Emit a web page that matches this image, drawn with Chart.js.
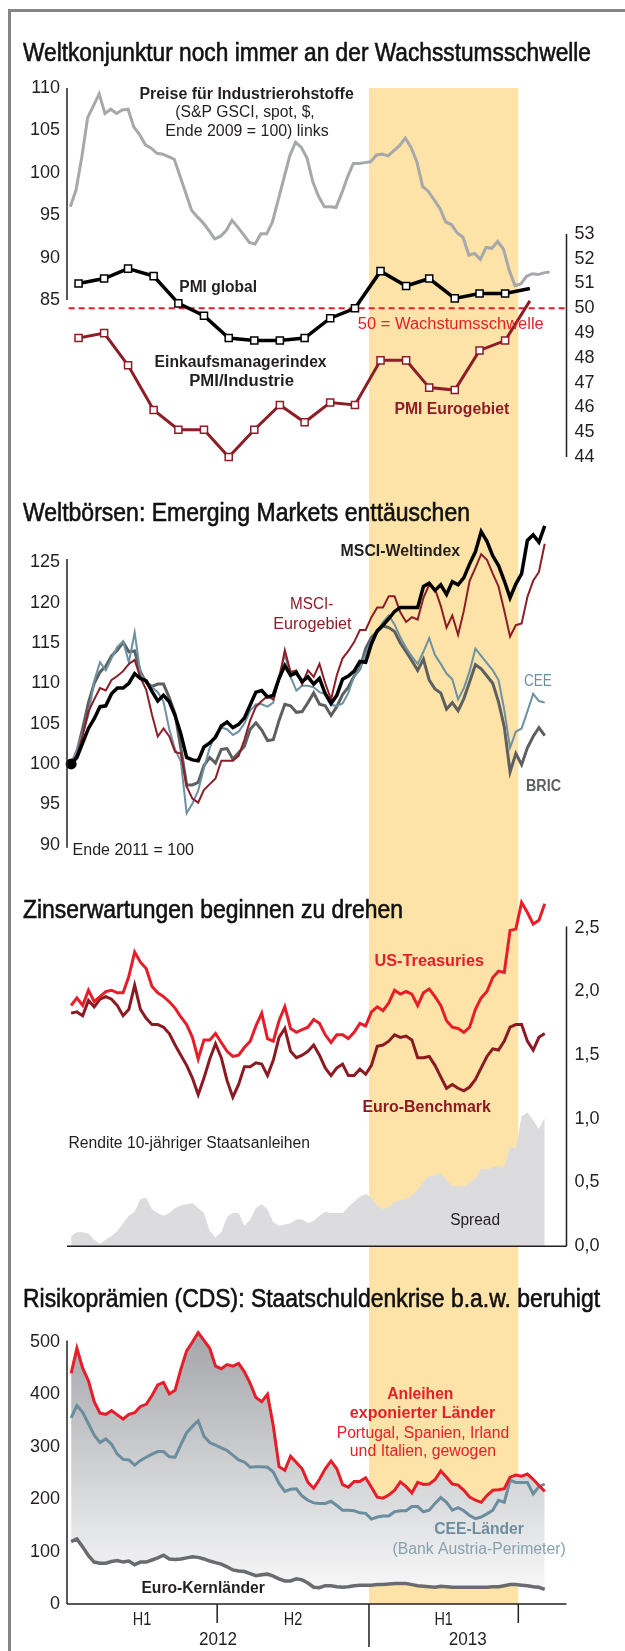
<!DOCTYPE html>
<html lang="de">
<head>
<meta charset="utf-8">
<title>Weltkonjunktur, Börsen, Zinsen, CDS</title>
<script src="https://cdn.jsdelivr.net/npm/chart.js@4.4.1/dist/chart.umd.min.js"></script>
<style>
  html, body { margin: 0; padding: 0; background: #fff; }
  #page { position: relative; width: 625px; height: 1651px; overflow: hidden; }
  #frame { position: absolute; left: 8px; top: 9px; width: 700px; height: 1700px;
           border-top: 3px solid #858585; border-left: 3px solid #858585; }
  canvas { position: absolute; left: 0; }
  .title { position: absolute; left: 23px; font-family: "Liberation Sans", Arial, sans-serif;
           font-size: 26px; line-height: 30px; color: #111; white-space: nowrap;
           transform-origin: 0 50%; z-index: 5; -webkit-text-stroke: 0.6px #111; }
</style>
</head>
<body>
<div id="page">
  <div id="frame"></div>
  <canvas id="p1" width="625" height="430" style="top:60px"></canvas>
  <canvas id="p2" width="625" height="390" style="top:490px"></canvas>
  <canvas id="p3" width="625" height="385" style="top:880px"></canvas>
  <canvas id="p4" width="625" height="386" style="top:1265px"></canvas>
  <div class="title" data-w="568" style="top:37px">Weltkonjunktur noch immer an der Wachsstumsschwelle</div>
  <div class="title" data-w="447" style="top:497px">Weltbörsen: Emerging Markets enttäuschen</div>
  <div class="title" data-w="380" style="top:894px">Zinserwartungen beginnen zu drehen</div>
  <div class="title" data-w="577" style="top:1283px">Risikoprämien (CDS): Staatschuldenkrise b.a.w. beruhigt</div>
</div>
<script>
// ---------- data ----------
const HIGHLIGHT = ['2013-01-01', '2013-07-01'];
const HALF_BOUNDS = ['2012-01-01', '2012-07-01', '2013-01-01', '2013-07-01'];
const HALF_LABELS = ['H1', 'H2', 'H1'];
const YEAR_STARTS = ['2012-01-01', '2013-01-01'];
const YEAR_LABELS = ['2012', '2013'];

// panel 1: PMI (monthly, right axis) and commodity prices (weekly, left axis)
const PMI_MONTHS = ['2012-01-15', '2012-02-15', '2012-03-15', '2012-04-15', '2012-05-15', '2012-06-15',
  '2012-07-15', '2012-08-15', '2012-09-15', '2012-10-15', '2012-11-15', '2012-12-15',
  '2013-01-15', '2013-02-15', '2013-03-15', '2013-04-15', '2013-05-15', '2013-06-15', '2013-07-15'];
const PMI_GLOBAL = [51.0, 51.2, 51.6, 51.3, 50.2, 49.7, 48.8, 48.7, 48.7, 48.8, 49.6, 50.0,
  51.5, 50.9, 51.2, 50.4, 50.6, 50.6, 50.8];
const PMI_EURO = [48.8, 49.0, 47.7, 45.9, 45.1, 45.1, 44.0, 45.1, 46.1, 45.4, 46.2, 46.1,
  47.9, 47.9, 46.8, 46.7, 48.3, 48.7, 50.3];
const PMI_THRESHOLD = 50;
const COMMODITY_START = '2012-01-05';
const COMMODITY = [96.0, 98.0, 101.9, 106.5, 107.9, 109.3, 107.0, 107.5, 107.0, 107.4,
  107.5, 105.4, 104.5, 103.3, 102.9, 102.3, 102.2, 101.9, 101.6, 99.6,
  97.6, 95.6, 94.8, 94.1, 93.2, 92.2, 92.5, 93.2, 94.4, 93.6,
  92.7, 91.8, 91.6, 92.8, 92.8, 94.2, 96.8, 99.4, 102.0, 103.6,
  103.0, 101.7, 98.9, 97.2, 96.0, 96.0, 95.9, 97.6, 99.5, 101.1,
  101.1, 101.2, 101.3, 102.1, 102.2, 102.0, 102.6, 103.2, 104.1, 103.0,
  101.3, 98.4, 97.8, 96.8, 95.8, 94.2, 93.9, 92.9, 92.4, 90.3,
  90.5, 89.8, 91.2, 91.1, 91.9, 91.0, 88.5, 86.7, 86.9, 87.8,
  88.1, 88.0, 88.2, 88.3];
const P1_LEFT_TICKS = [85, 90, 95, 100, 105, 110];
const P1_RIGHT_TICKS = [44, 45, 46, 47, 48, 49, 50, 51, 52, 53];

// weekly series of panels 2-4
const WEEKLY_START = '2012-01-06';
const MSCI_WORLD = [100, 100.8, 102.6, 104.4, 105.6, 107.1, 107.2, 108.7, 109.4, 109.4,
  110.0, 111.2, 110.6, 110.3, 109.0, 107.8, 108.5, 107.7, 106.0, 103.7,
  100.8, 100.5, 100.4, 102.1, 102.6, 103.3, 104.7, 105.2, 104.5, 104.9,
  105.7, 107.3, 108.9, 109.1, 108.3, 108.5, 110.6, 112.2, 111.0, 111.3,
  110.2, 110.8, 109.9, 110.6, 108.7, 107.5, 108.5, 110.5, 110.9, 111.5,
  112.7, 112.6, 114.9, 116.5, 117.2, 118.0, 118.9, 119.4, 119.4, 119.4,
  119.4, 122.0, 122.4, 121.5, 122.2, 121.0, 122.6, 122.2, 123.1, 124.8,
  126.3, 128.8, 127.6, 125.8, 124.6, 122.7, 120.6, 122.3, 123.6, 127.7,
  128.4, 127.5, 129.5];
const MSCI_EURO = [100, 101.1, 103.5, 106.5, 108.0, 109.4, 109.1, 110.4, 110.9, 111.5,
  112.4, 112.9, 110.7, 109.2, 106.1, 103.4, 104.4, 103.4, 101.5, 101.3,
  97.2, 95.7, 95.2, 96.8, 97.5, 98.2, 100.4, 100.4, 100.4, 101.0,
  103.0, 105.4, 107.1, 107.8, 108.4, 108.0, 110.4, 114.1, 111.4, 111.6,
  109.9, 111.6, 110.8, 112.4, 110.0, 108.0, 111.0, 113.1, 114.0, 115.1,
  116.6, 116.6, 118.2, 119.4, 119.4, 120.8, 120.8, 118.8, 117.6, 118.2,
  117.9, 120.6, 122.2, 121.7, 119.6, 116.9, 118.4, 116.0, 119.0, 122.7,
  124.3, 126.0, 125.3, 123.6, 122.0, 119.0, 115.8, 117.2, 117.4, 120.7,
  122.7, 123.8, 127.3];
const MSCI_CEE = [100, 101.8, 103.8, 106.1, 110.3, 112.6, 111.6, 113.1, 114.5, 115.2,
  112.6, 116.3, 111.2, 110.3, 109.5, 108.9, 107.7, 104.3, 101.8, 100.3,
  93.9, 95.1, 96.7, 99.5, 102.0, 103.6, 104.5, 104.3, 103.6, 104.0,
  105.0, 106.6, 107.4, 107.4, 107.1, 107.6, 110.9, 113.6, 110.8, 109.1,
  109.7, 109.7, 109.5, 108.9, 108.7, 107.3, 107.2, 107.5, 108.8, 110.9,
  111.7, 113.7, 115.3, 116.4, 117.6, 118.4, 117.3, 115.7, 114.4, 113.3,
  112.4, 113.9, 115.6, 113.5, 112.4, 111.2, 110.5, 108.0, 109.4, 111.5,
  114.3, 113.4, 112.5, 111.6, 110.4, 106.7, 102.0, 104.0, 104.4, 106.5,
  108.7, 107.8, 107.6];
const MSCI_BRIC = [100, 101.5, 104.4, 107.6, 110.0, 111.4, 112.1, 113.4, 114.1, 115.1,
  113.9, 114.0, 111.4, 110.1, 109.6, 109.9, 109.9, 108.2, 106.2, 101.9,
  97.4, 97.4, 97.7, 99.8, 100.8, 100.1, 101.8, 101.9, 100.6, 101.4,
  102.2, 104.3, 105.1, 104.2, 102.9, 103.0, 105.4, 107.4, 107.2, 106.4,
  106.5, 107.6, 108.8, 107.4, 107.2, 106.0, 107.1, 108.6, 109.5, 110.9,
  111.8, 114.3, 115.7, 116.4, 117.1, 116.9, 116.4, 115.0, 113.9, 112.8,
  111.6, 113.0, 110.4, 109.3, 108.8, 106.8, 107.6, 106.6, 108.1, 110.2,
  112.3, 111.8, 110.9, 110.0, 107.7, 104.6, 99.0, 101.3, 99.9, 102.0,
  103.4, 104.5, 103.5];
const P2_TICKS = [90, 95, 100, 105, 110, 115, 120, 125];

const US_10Y = [1.89, 1.95, 1.89, 2.01, 1.92, 1.96, 2.00, 2.01, 1.99, 1.99,
  2.12, 2.31, 2.23, 2.18, 2.04, 1.99, 1.96, 1.92, 1.87, 1.80,
  1.74, 1.64, 1.47, 1.62, 1.62, 1.67, 1.60, 1.53, 1.49, 1.50,
  1.56, 1.61, 1.73, 1.83, 1.63, 1.61, 1.77, 1.88, 1.71, 1.68,
  1.70, 1.72, 1.78, 1.75, 1.66, 1.60, 1.66, 1.66, 1.63, 1.68,
  1.75, 1.73, 1.84, 1.88, 1.85, 1.91, 2.01, 1.98, 2.00, 1.98,
  1.89, 1.99, 2.02, 1.96, 1.89, 1.77, 1.72, 1.71, 1.68, 1.72,
  1.86, 1.95, 2.00, 2.11, 2.16, 2.15, 2.48, 2.49, 2.70, 2.62,
  2.53, 2.56, 2.69];
const EURO_10Y = [1.83, 1.84, 1.81, 1.93, 1.88, 1.94, 1.96, 1.94, 1.89, 1.81,
  1.86, 2.05, 1.86, 1.79, 1.74, 1.74, 1.72, 1.67, 1.58, 1.50,
  1.42, 1.32, 1.19, 1.32, 1.47, 1.59, 1.48, 1.30, 1.17, 1.27,
  1.41, 1.41, 1.44, 1.43, 1.34, 1.46, 1.64, 1.71, 1.53, 1.48,
  1.50, 1.53, 1.58, 1.50, 1.40, 1.34, 1.40, 1.43, 1.34, 1.34,
  1.39, 1.35, 1.42, 1.57, 1.58, 1.61, 1.66, 1.64, 1.65, 1.62,
  1.48, 1.48, 1.49, 1.42, 1.33, 1.24, 1.27, 1.24, 1.22, 1.25,
  1.31, 1.40, 1.49, 1.55, 1.54, 1.61, 1.72, 1.74, 1.74, 1.61,
  1.54, 1.64, 1.67];
const SPREAD = [0.08, 0.11, 0.11, 0.10, 0.05, 0.02, 0.05, 0.08, 0.12, 0.18,
  0.24, 0.27, 0.37, 0.38, 0.29, 0.26, 0.24, 0.26, 0.30, 0.32,
  0.33, 0.34, 0.30, 0.26, 0.12, 0.07, 0.11, 0.23, 0.26, 0.26,
  0.16, 0.21, 0.30, 0.33, 0.29, 0.19, 0.16, 0.17, 0.18, 0.21,
  0.21, 0.18, 0.20, 0.24, 0.27, 0.26, 0.26, 0.26, 0.31, 0.35,
  0.39, 0.41, 0.38, 0.32, 0.29, 0.31, 0.35, 0.36, 0.37, 0.40,
  0.44, 0.51, 0.55, 0.56, 0.57, 0.52, 0.47, 0.47, 0.47, 0.50,
  0.53, 0.61, 0.60, 0.62, 0.63, 0.62, 0.78, 0.77, 1.02, 1.05,
  0.99, 0.92, 1.01];
const P3_TICKS = [0, 0.5, 1, 1.5, 2, 2.5];

const CDS_PERIPHERY = [440, 488, 450, 426, 386, 364, 362, 369, 361, 353,
  362, 365, 377, 381, 398, 418, 423, 401, 408, 448,
  483, 500, 518, 503, 488, 454, 449, 457, 454, 459,
  443, 421, 394, 386, 400, 340, 262, 255, 282, 270,
  258, 232, 221, 238, 258, 273, 258, 228, 223, 234,
  234, 241, 223, 204, 202, 208, 217, 233, 224, 212,
  232, 228, 229, 237, 254, 242, 229, 227, 217, 204,
  198, 194, 207, 217, 218, 220, 242, 246, 244, 248,
  238, 226, 215];
const CDS_CEE = [355, 379, 366, 344, 322, 308, 315, 305, 286, 276,
  275, 265, 274, 280, 286, 291, 291, 281, 280, 304,
  327, 339, 350, 320, 308, 303, 298, 293, 284, 275,
  271, 261, 262, 262, 261, 252, 230, 215, 219, 220,
  206, 198, 193, 192, 192, 196, 188, 179, 179, 178,
  174, 173, 162, 166, 168, 168, 176, 178, 178, 186,
  186, 176, 179, 192, 203, 194, 179, 184, 178, 169,
  163, 166, 172, 179, 198, 194, 236, 232, 232, 232,
  210, 224, 229];
const CDS_CORE = [119, 124, 109, 92, 80, 78, 78, 81, 83, 80,
  82, 75, 80, 80, 84, 88, 93, 86, 85, 86,
  88, 90, 89, 86, 82, 79, 76, 71, 65, 63,
  62, 58, 54, 56, 57, 53, 48, 44, 44, 48,
  46, 40, 32, 31, 35, 35, 33, 32, 33, 35,
  36, 36, 36, 37, 37, 38, 39, 39, 39, 37,
  35, 34, 33, 32, 34, 33, 32, 32, 32, 32,
  32, 32, 32, 33, 33, 35, 37, 37, 36, 35,
  33, 32, 28];
const P4_TICKS = [0, 100, 200, 300, 400, 500];

// ---------- helpers ----------
const FONT = '"Liberation Sans", Arial, sans-serif';
const INK = '#231f20';
const BAND = '#fde3a7';
const RED = '#e61e2a';
const DARKRED = '#8d1d27';
const BLUEGREY = '#6b91a3';
const AREA_LEFT = 67, AREA_RIGHT = 566.5, PAGE_W = 625;
const X_MAX = 605.4; // days after 1 Jan 2012 at the right end of the axes

const DAY0 = Date.UTC(2012, 0, 1);
const day = s => (Date.parse(s + 'T00:00:00Z') - DAY0) / 864e5;
const weekly = (start, n) => Array.from({length: n}, (_, i) => day(start) + 7 * i);
const pts = (xs, ys) => ys.map((y, i) => ({x: xs[i], y}));

const WEEKS_COMMODITY = weekly(COMMODITY_START, COMMODITY.length);
const WEEKS = weekly(WEEKLY_START, MSCI_WORLD.length);
const MONTHS = PMI_MONTHS.map(day);

function drawText(ctx, L, top) {
  ctx.save();
  ctx.font = (L.bold ? 'bold ' : '') + (L.size || 16) + 'px ' + FONT;
  ctx.fillStyle = L.color || INK;
  ctx.textBaseline = 'middle';
  ctx.textAlign = 'left';
  const natural = ctx.measureText(L.t).width;
  const w = L.w || natural;
  const left = L.align === 'center' ? L.x - w / 2 : L.x;
  ctx.translate(left, L.y - top);
  ctx.scale(w / natural, 1);
  ctx.fillText(L.t, 0, 0);
  ctx.restore();
}

function drawTimeAxis(chart, top) {
  const {ctx, chartArea: a, scales: {x}} = chart;
  const y0 = a.bottom;
  HALF_BOUNDS.slice(1).forEach(d => {
    const px = x.getPixelForValue(day(d));
    const long = YEAR_STARTS.includes(d);
    ctx.beginPath();
    ctx.moveTo(px, y0);
    ctx.lineTo(px, y0 + (long ? 43 : 19));
    ctx.stroke();
  });
  HALF_LABELS.forEach((t, i) => {
    const mid = (day(HALF_BOUNDS[i]) + day(HALF_BOUNDS[i + 1])) / 2;
    drawText(ctx, {t, x: x.getPixelForValue(mid), y: 1620, align: 'center', size: 18, w: 18.5}, top);
  });
  YEAR_LABELS.forEach((t, i) => {
    const from = day(YEAR_STARTS[i]);
    const to = i + 1 < YEAR_STARTS.length ? day(YEAR_STARTS[i + 1]) : X_MAX;
    drawText(ctx, {t, x: x.getPixelForValue((from + to) / 2), y: 1640, align: 'center', size: 18, w: 38}, top);
  });
}

function decor(spec) {
  return {
    id: 'decor',
    beforeDraw(chart) {
      const {ctx, chartArea: a, scales} = chart;
      const x0 = scales.x.getPixelForValue(day(HIGHLIGHT[0]));
      const x1 = scales.x.getPixelForValue(day(HIGHLIGHT[1]));
      const y0 = spec.bandFromArea ? a.top : 0;
      const y1 = spec.bandToArea ? a.bottom : chart.height;
      ctx.save();
      ctx.fillStyle = BAND;
      ctx.fillRect(x0, y0, x1 - x0, y1 - y0);
      ctx.restore();
    },
    afterDraw(chart) {
      const {ctx, chartArea: a, scales} = chart;
      ctx.save();
      ctx.strokeStyle = INK;
      ctx.lineWidth = 1.5;
      (spec.axes || []).forEach(ax => {
        const s = scales[ax.scale];
        const px = s.position === 'left' ? a.left : a.right;
        ctx.beginPath();
        ctx.moveTo(px, s.getPixelForValue(ax.from));
        ctx.lineTo(px, s.getPixelForValue(ax.to));
        ctx.stroke();
      });
      if (spec.baseline) {
        const py = scales[spec.baseline].getPixelForValue(0);
        ctx.beginPath();
        ctx.moveTo(a.left, py);
        ctx.lineTo(a.right, py);
        ctx.stroke();
      }
      if (spec.timeAxis) drawTimeAxis(chart, spec.top);
      ctx.restore();
      (spec.labels || []).forEach(L => drawText(ctx, L, spec.top));
    }
  };
}

function yAxis(position, min, max, ticks, fmt) {
  return {
    type: 'linear', position, min, max,
    grid: {display: false, drawTicks: false},
    border: {display: false},
    afterBuildTicks: s => { s.ticks = ticks.map(v => ({value: v})); },
    afterFit: s => { s.width = position === 'left' ? AREA_LEFT : PAGE_W - AREA_RIGHT; },
    ticks: {
      autoSkip: false, padding: position === 'left' ? 7 : 8, color: INK,
      font: {family: FONT, size: 18},
      callback: fmt || (v => String(v))
    }
  };
}

function options(padding, scales) {
  return {
    responsive: false,
    animation: false,
    events: [],
    layout: {padding},
    plugins: {
      legend: {display: false},
      tooltip: {enabled: false},
      filler: {drawTime: 'beforeDatasetsDraw'}
    },
    scales: Object.assign({x: {type: 'linear', min: 0, max: X_MAX, display: false}}, scales)
  };
}

function line(data, color, width, extra) {
  return Object.assign({
    data, borderColor: color, borderWidth: width, pointRadius: 0,
    tension: 0, fill: false, clip: false
  }, extra || {});
}

// ---------- panel 1 ----------
new Chart(document.getElementById('p1'), {
  type: 'line',
  data: {
    datasets: [
      line(pts(MONTHS, PMI_GLOBAL), '#000', 3.5, {
        yAxisID: 'yR', pointStyle: 'rect', pointBackgroundColor: '#fff',
        pointBorderColor: '#000', pointBorderWidth: 1.5,
        pointRadius: c => c.dataIndex < PMI_GLOBAL.length - 1 ? 5 : 0
      }),
      line(pts(MONTHS, PMI_EURO), DARKRED, 3, {
        yAxisID: 'yR', pointStyle: 'rect', pointBackgroundColor: '#fff',
        pointBorderColor: DARKRED, pointBorderWidth: 1.5,
        pointRadius: c => c.dataIndex < PMI_EURO.length - 1 ? 5 : 0
      }),
      line([{x: 2, y: PMI_THRESHOLD}, {x: X_MAX, y: PMI_THRESHOLD}], RED, 2, {
        yAxisID: 'yR', borderDash: [6, 4]
      }),
      line(pts(WEEKS_COMMODITY, COMMODITY), '#a6a8ab', 3, {yAxisID: 'yL'})
    ]
  },
  options: options({left: 0, right: 0, top: 28, bottom: 33}, {
    yL: yAxis('left', 66.49, 110, P1_LEFT_TICKS),
    yR: yAxis('right', 44, 58.89, P1_RIGHT_TICKS)
  }),
  plugins: [decor({
    top: 60, bandFromArea: true,
    axes: [{scale: 'yL', from: 85, to: 110}, {scale: 'yR', from: 44, to: 53}],
    labels: [
      {t: 'Preise für Industrierohstoffe', x: 139.4, y: 95, w: 214.4, bold: true},
      {t: '(S&P GSCI, spot, $,', x: 175.3, y: 113, w: 139.4},
      {t: 'Ende 2009 = 100) links', x: 165.3, y: 132, w: 163.4},
      {t: 'PMI global', x: 179.3, y: 288, w: 77.7, bold: true},
      {t: '50 = Wachstumsschwelle', x: 357.8, y: 325, w: 186, color: RED},
      {t: 'Einkaufsmanagerindex', x: 154.6, y: 363, w: 172, bold: true},
      {t: 'PMI/Industrie', x: 189.2, y: 382, w: 104.8, bold: true},
      {t: 'PMI Eurogebiet', x: 394.4, y: 410, w: 114.8, bold: true, color: DARKRED}
    ]
  })]
});

// ---------- panel 2 ----------
new Chart(document.getElementById('p2'), {
  type: 'line',
  data: {
    datasets: [
      line(pts(WEEKS, MSCI_WORLD), '#000', 3.5, {
        pointRadius: c => c.dataIndex === 0 ? 5.5 : 0, pointBackgroundColor: '#000',
        pointBorderColor: '#000', pointBorderWidth: 0
      }),
      line(pts(WEEKS, MSCI_EURO), DARKRED, 2),
      line(pts(WEEKS, MSCI_CEE), BLUEGREY, 2),
      line(pts(WEEKS, MSCI_BRIC), '#5e5f61', 3)
    ]
  },
  options: options({left: 0, right: PAGE_W - AREA_RIGHT, top: 12, bottom: 12}, {
    y: yAxis('left', 87.82, 131.75, P2_TICKS)
  }),
  plugins: [decor({
    top: 490,
    axes: [{scale: 'y', from: 89.6, to: 125.4}],
    labels: [
      {t: 'MSCI-Weltindex', x: 340.6, y: 551.7, w: 119.5, bold: true},
      {t: 'MSCI-', x: 290, y: 605, w: 43.3, color: DARKRED},
      {t: 'Eurogebiet', x: 273.3, y: 625, w: 78.3, color: DARKRED},
      {t: 'CEE', x: 524, y: 682, w: 27.9, color: BLUEGREY},
      {t: 'BRIC', x: 526, y: 786.7, w: 35, bold: true, color: '#5e5f61'},
      {t: 'Ende 2011 = 100', x: 72.5, y: 850.5, w: 121.5}
    ]
  })]
});

// ---------- panel 3 ----------
new Chart(document.getElementById('p3'), {
  type: 'line',
  data: {
    datasets: [
      line(pts(WEEKS, US_10Y), RED, 3),
      line(pts(WEEKS, EURO_10Y), '#8b1a22', 3),
      line(pts(WEEKS, SPREAD), '#dcdcde', 0, {fill: 'origin', backgroundColor: '#dcdcde'})
    ]
  },
  options: options({left: AREA_LEFT, right: 0, top: 12, bottom: 14}, {
    y: yAxis('right', 0, 2.728, P3_TICKS, v => v.toFixed(1).replace('.', ','))
  }),
  plugins: [decor({
    top: 880,
    axes: [{scale: 'y', from: 0, to: 2.51}],
    baseline: 'y',
    labels: [
      {t: 'US-Treasuries', x: 374.5, y: 961.7, w: 109.5, bold: true, color: RED},
      {t: 'Euro-Benchmark', x: 362.5, y: 1107.3, w: 128.3, bold: true, color: '#8b1a22'},
      {t: 'Rendite 10-jähriger Staatsanleihen', x: 68.5, y: 1143.3, w: 241.5},
      {t: 'Spread', x: 450.2, y: 1220.7, w: 49.8}
    ]
  })]
});

// ---------- panel 4 ----------
new Chart(document.getElementById('p4'), {
  type: 'line',
  data: {
    datasets: [
      line(pts(WEEKS, CDS_PERIPHERY), RED, 3, {
        fill: 2,
        backgroundColor: c => {
          const ch = c.chart;
          if (!ch.chartArea) return 'rgba(0,0,0,0)';
          const y = ch.scales.y;
          const g = ch.ctx.createLinearGradient(0, y.getPixelForValue(510), 0, y.getPixelForValue(25));
          g.addColorStop(0, '#a5a7aa');
          g.addColorStop(1, '#f8f8f9');
          return g;
        }
      }),
      line(pts(WEEKS, CDS_CEE), '#6a8d9f', 3),
      line(pts(WEEKS, CDS_CORE), '#6a6b6e', 3.5)
    ]
  },
  options: options({left: 0, right: PAGE_W - AREA_RIGHT, top: 55, bottom: 47}, {
    y: yAxis('left', 0, 542, P4_TICKS)
  }),
  plugins: [decor({
    top: 1265, bandToArea: true,
    axes: [{scale: 'y', from: 0, to: 503}],
    baseline: 'y',
    timeAxis: true,
    labels: [
      {t: 'Anleihen', x: 387.3, y: 1395, w: 66.1, bold: true, color: RED},
      {t: 'exponierter Länder', x: 349.8, y: 1413.3, w: 145.4, bold: true, color: RED},
      {t: 'Portugal, Spanien, Irland', x: 336.7, y: 1433.3, w: 172.5, color: RED},
      {t: 'und Italien, gewogen', x: 349.8, y: 1451.7, w: 146.2, color: RED},
      {t: 'CEE-Länder', x: 434.3, y: 1530, w: 89.6, bold: true, color: '#6a8d9f'},
      {t: '(Bank Austria-Perimeter)', x: 392.4, y: 1550, w: 173.3, color: '#86a2b0'},
      {t: 'Euro-Kernländer', x: 141.4, y: 1588.3, w: 123.5, bold: true}
    ]
  })]
});

// fit the titles to their widths in the original
document.querySelectorAll('.title').forEach(el => {
  const w = el.getBoundingClientRect().width;
  el.style.transform = 'scaleX(' + (el.dataset.w / w) + ')';
});
</script>
</body>
</html>
